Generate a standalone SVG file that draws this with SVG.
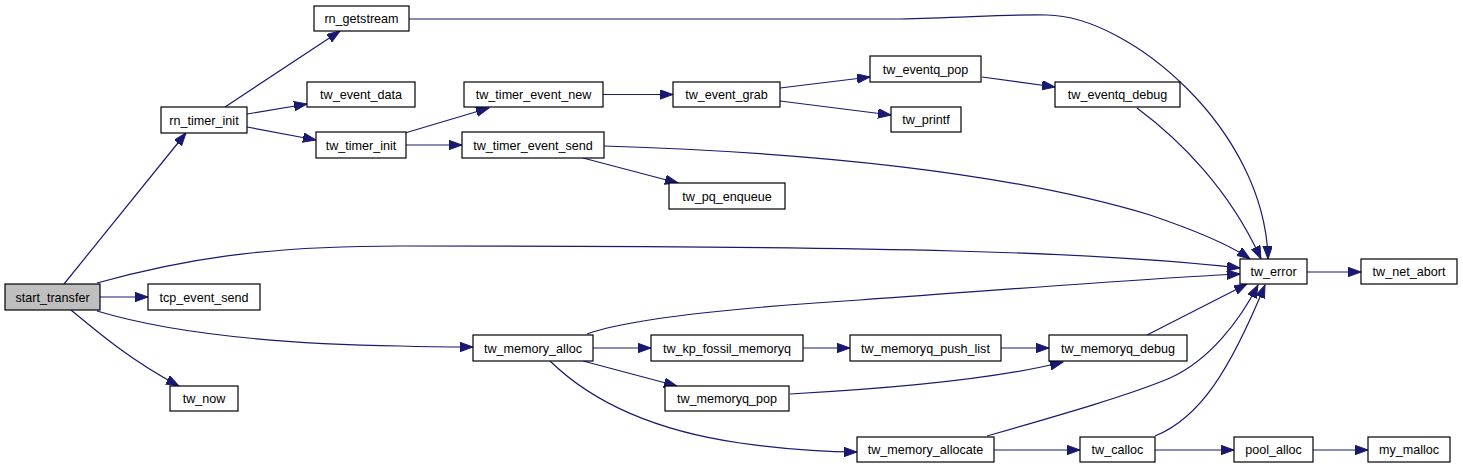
<svg xmlns="http://www.w3.org/2000/svg" width="1463" height="468" viewBox="0 0 1463 468">
<style>
.n rect{fill:#fff;stroke:#000;stroke-width:1.2}
.n.root rect{fill:#bfbfbf}
.n text{font-family:"Liberation Sans",Arial,sans-serif;font-size:12.6px;text-anchor:middle;fill:#000}
.e path{fill:none;stroke:#191970;stroke-width:1.2;marker-end:url(#ah)}
</style>
<defs>
<marker id="ah" markerUnits="userSpaceOnUse" markerWidth="14" markerHeight="10" refX="13" refY="4.7" orient="auto" viewBox="0 0 14 10">
<path d="M0,0 L13,4.7 L0,9.4 z" fill="#191970" stroke="#191970" stroke-width="1"/>
</marker>
</defs>
<rect width="1463" height="468" fill="#fff"/>
<g id="edges" class="e">
<path d="M64,284 L186,133"/>
<path d="M100,297 L148,297"/>
<path d="M71,310 C95,330 130,360 179,386"/>
<path d="M97,283 C180,260 260,246 400,246 C900,246 1100,252 1240,268"/>
<path d="M97,311 C170,333 280,344 400,346 C430,347 450,347 473,347"/>
<path d="M225,107 L340,31"/>
<path d="M247,114 L307,104"/>
<path d="M247,127 L316,140"/>
<path d="M409,19 L900,19 C960,18 1010,14 1047,15 C1130,16 1265,130 1268,259"/>
<path d="M405,133 L489,108"/>
<path d="M406,145 L462,145"/>
<path d="M603,94.5 L673,94.5"/>
<path d="M780,88 L870,77"/>
<path d="M780,101 L891,115"/>
<path d="M982,77 L1055,87"/>
<path d="M1137,108 C1180,140 1230,190 1261,259"/>
<path d="M604,146 C800,152 1000,170 1150,215 C1200,232 1230,245 1250,259"/>
<path d="M583,158 L678,183"/>
<path d="M587,334 C620,322 700,310 860,300 C1000,290 1150,278 1240,274"/>
<path d="M593,348 L651,348"/>
<path d="M583,361 L677,386"/>
<path d="M550,361 C590,400 650,430 740,443 C790,450 820,452 857,452"/>
<path d="M803,348 L850,348"/>
<path d="M1001,348 L1049,348"/>
<path d="M790,394 C900,388 1000,378 1063,362"/>
<path d="M1147,335 L1247,284"/>
<path d="M987,436 C1060,415 1130,395 1170,378 C1210,360 1240,320 1258,285"/>
<path d="M1155,436 C1200,418 1230,370 1265,285"/>
<path d="M994,450 L1080,450"/>
<path d="M1155,450 L1234,450"/>
<path d="M1313,450 L1368,450"/>
<path d="M1307,272 L1361,272"/>
</g>
<g id="start_transfer" class="n root"><rect x="5" y="284" width="95" height="26"/><text x="52.5" y="301.5">start_transfer</text></g>
<g id="tcp_event_send" class="n"><rect x="148" y="284" width="112" height="26"/><text x="204" y="301.5">tcp_event_send</text></g>
<g id="tw_now" class="n"><rect x="170" y="386" width="68" height="25"/><text x="204" y="403">tw_now</text></g>
<g id="rn_timer_init" class="n"><rect x="161" y="107" width="86" height="26"/><text x="204" y="124.5">rn_timer_init</text></g>
<g id="rn_getstream" class="n"><rect x="314" y="6" width="95" height="25"/><text x="361.5" y="23">rn_getstream</text></g>
<g id="tw_event_data" class="n"><rect x="307" y="82" width="108" height="25"/><text x="361" y="99">tw_event_data</text></g>
<g id="tw_timer_init" class="n"><rect x="316" y="132" width="90" height="26"/><text x="361" y="149.5">tw_timer_init</text></g>
<g id="tw_timer_event_new" class="n"><rect x="464" y="82" width="139" height="25"/><text x="533.5" y="99">tw_timer_event_new</text></g>
<g id="tw_event_grab" class="n"><rect x="673" y="82" width="107" height="25"/><text x="726.5" y="99">tw_event_grab</text></g>
<g id="tw_timer_event_send" class="n"><rect x="462" y="132" width="142" height="26"/><text x="533" y="149.5">tw_timer_event_send</text></g>
<g id="tw_pq_enqueue" class="n"><rect x="669" y="183" width="116" height="26"/><text x="727" y="200.5">tw_pq_enqueue</text></g>
<g id="tw_eventq_pop" class="n"><rect x="870" y="56" width="111" height="26"/><text x="925.5" y="73.5">tw_eventq_pop</text></g>
<g id="tw_printf" class="n"><rect x="891" y="107" width="70" height="25"/><text x="926" y="124">tw_printf</text></g>
<g id="tw_eventq_debug" class="n"><rect x="1055" y="82" width="125" height="25"/><text x="1117.5" y="99">tw_eventq_debug</text></g>
<g id="tw_error" class="n"><rect x="1240" y="259" width="67" height="25"/><text x="1273.5" y="276">tw_error</text></g>
<g id="tw_net_abort" class="n"><rect x="1361" y="259" width="96" height="25"/><text x="1409" y="276">tw_net_abort</text></g>
<g id="tw_memory_alloc" class="n"><rect x="473" y="335" width="120" height="26"/><text x="533" y="352.5">tw_memory_alloc</text></g>
<g id="tw_kp_fossil_memoryq" class="n"><rect x="651" y="335" width="152" height="26"/><text x="727" y="352.5">tw_kp_fossil_memoryq</text></g>
<g id="tw_memoryq_pop" class="n"><rect x="665" y="386" width="124" height="25"/><text x="727" y="403">tw_memoryq_pop</text></g>
<g id="tw_memoryq_push_list" class="n"><rect x="850" y="335" width="151" height="26"/><text x="925.5" y="352.5">tw_memoryq_push_list</text></g>
<g id="tw_memoryq_debug" class="n"><rect x="1049" y="335" width="138" height="26"/><text x="1118" y="352.5">tw_memoryq_debug</text></g>
<g id="tw_memory_allocate" class="n"><rect x="857" y="437" width="137" height="25"/><text x="925.5" y="454">tw_memory_allocate</text></g>
<g id="tw_calloc" class="n"><rect x="1080" y="437" width="75" height="25"/><text x="1117.5" y="454">tw_calloc</text></g>
<g id="pool_alloc" class="n"><rect x="1234" y="437" width="79" height="25"/><text x="1273.5" y="454">pool_alloc</text></g>
<g id="my_malloc" class="n"><rect x="1368" y="437" width="82" height="25"/><text x="1409" y="454">my_malloc</text></g>
</svg>
